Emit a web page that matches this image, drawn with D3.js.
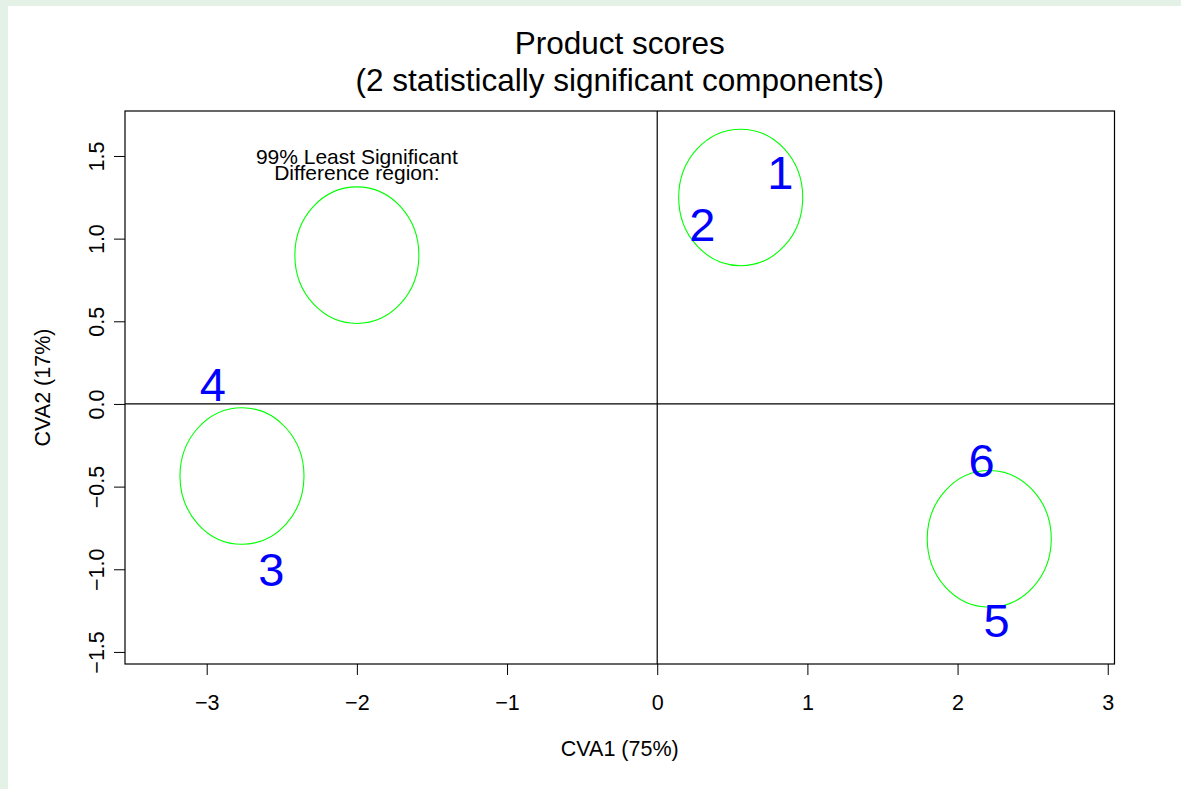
<!DOCTYPE html>
<html>
<head>
<meta charset="utf-8">
<script src="https://cdn.jsdelivr.net/npm/d3@7"></script>
<style>
  html, body { margin: 0; padding: 0; background: #e3f1e6; }
  svg { display: block; }
  text { font-family: "Liberation Sans", Arial, Helvetica, sans-serif; fill: #000; }
</style>
</head>
<body>
<script>
// Product scores on the first two canonical variates
const products = ["1", "2", "3", "4", "5", "6"];
const cva1 = [0.82, 0.30, -2.57, -2.96, 2.26, 2.16];
const cva2 = [1.40, 1.09, -1.00, 0.12, -1.31, -0.34];

// Least Significant Difference regions (centres and radius)
const regionCx = [-2.00, 0.556, -2.765, 2.211];
const regionCy = [0.90, 1.249, -0.436, -0.816];
const regionR = 0.413;

const xTicks = [-3, -2, -1, 0, 1, 2, 3];
const yTicks = [-1.5, -1.0, -0.5, 0.0, 0.5, 1.0, 1.5];

const titleLines = ["Product scores", "(2 statistically significant components)"];
const legendLines = ["99% Least Significant", "Difference region:"];
const xLabel = "CVA1 (75%)";
const yLabel = "CVA2 (17%)";

const W = 1181, H = 789;
const svg = d3.select("body").append("svg").attr("width", W).attr("height", H);

// device area
svg.append("rect").attr("x", 8).attr("y", 6).attr("width", W - 8).attr("height", H - 6).attr("fill", "#fff");

const x = d3.scaleLinear().domain([-3.544, 3.045]).range([125, 1114.5]);
const y = d3.scaleLinear().domain([-1.573, 1.772]).range([664, 111]);

const fmtMinus = s => s.replace("-", "\u2212");
const midX = (x.range()[0] + x.range()[1]) / 2;

// title
svg.append("g").selectAll("text").data(titleLines).join("text")
  .attr("x", midX)
  .attr("y", (d, i) => 54 + i * 37)
  .attr("text-anchor", "middle")
  .style("font-size", "31.5px")
  .text(d => d);

// x axis
const xAxis = svg.append("g").attr("transform", `translate(0,${y.range()[0]})`)
  .call(d3.axisBottom(x).tickValues(xTicks).tickSize(11).tickPadding(0).tickFormat(d => fmtMinus(d3.format("d")(d))));
xAxis.select(".domain").remove();
xAxis.selectAll(".tick line").attr("stroke", "#000");
xAxis.selectAll(".tick text")
  .attr("y", 46).attr("dy", null)
  .style("font-size", "21.5px").style("font-family", "'Liberation Sans', Arial, sans-serif");

// y axis
const yAxis = svg.append("g").attr("transform", `translate(${x.range()[0]},0)`)
  .call(d3.axisLeft(y).tickValues(yTicks).tickSize(11).tickFormat(d => fmtMinus(d3.format(".1f")(d))));
yAxis.select(".domain").remove();
yAxis.selectAll(".tick line").attr("stroke", "#000");
yAxis.selectAll(".tick text")
  .attr("x", null).attr("dy", null)
  .attr("text-anchor", "middle")
  .attr("transform", "translate(-21,0) rotate(-90)")
  .style("font-size", "21.5px").style("font-family", "'Liberation Sans', Arial, sans-serif");

// axis titles
svg.append("text").attr("x", midX).attr("y", 756)
  .attr("text-anchor", "middle").style("font-size", "21.5px").text(xLabel);
svg.append("text")
  .attr("transform", `translate(50,${(y.range()[0] + y.range()[1]) / 2}) rotate(-90)`)
  .attr("text-anchor", "middle").style("font-size", "21.5px").text(yLabel);

// reference lines through the origin
const plot = svg.append("g");
plot.append("line").attr("x1", x.range()[0]).attr("x2", x.range()[1])
  .attr("y1", y(0)).attr("y2", y(0)).attr("stroke", "#000").attr("stroke-width", 1.2);
plot.append("line").attr("x1", x(0)).attr("x2", x(0))
  .attr("y1", y.range()[1]).attr("y2", y.range()[0]).attr("stroke", "#000").attr("stroke-width", 1.2);

// LSD regions
plot.selectAll("ellipse").data(regionCx).join("ellipse")
  .attr("cx", d => x(d))
  .attr("cy", (d, i) => y(regionCy[i]))
  .attr("rx", x(regionR) - x(0))
  .attr("ry", y(0) - y(regionR))
  .attr("fill", "none").attr("stroke", "#00ff00").attr("stroke-width", 1.1);

// caption above the reference region (the two lines sit tightly together)
plot.selectAll("text.legend").data(legendLines).join("text")
  .attr("class", "legend")
  .attr("x", x(regionCx[0]))
  .attr("y", (d, i) => 163.5 + i * 16)
  .attr("text-anchor", "middle")
  .style("font-size", "21px")
  .text(d => d);

// product labels
plot.selectAll("text.prod").data(products).join("text")
  .attr("class", "prod")
  .attr("x", (d, i) => x(cva1[i]))
  .attr("y", (d, i) => y(cva2[i]))
  .attr("dy", "0.36em")
  .attr("text-anchor", "middle")
  .style("font-size", "47px")
  .style("fill", "#0000ff")
  .text(d => d);

// plot frame
svg.append("rect")
  .attr("x", x.range()[0]).attr("y", y.range()[1])
  .attr("width", x.range()[1] - x.range()[0]).attr("height", y.range()[0] - y.range()[1])
  .attr("fill", "none").attr("stroke", "#000").attr("stroke-width", 1.2);
</script>
</body>
</html>
